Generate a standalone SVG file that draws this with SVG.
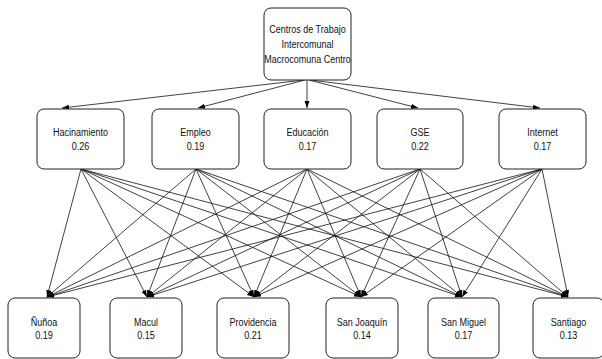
<svg xmlns="http://www.w3.org/2000/svg" width="602" height="359" viewBox="0 0 602 359">
<defs>
<marker id="ah" markerUnits="userSpaceOnUse" markerWidth="8" markerHeight="6" refX="7" refY="3" orient="auto">
<path d="M0,0.5 L7,3 L0,5.5 Z" fill="#000"/>
</marker>
<style>
.n rect{fill:#fff;stroke:#222;stroke-width:1}
.n text{font-family:"Liberation Sans",Arial,sans-serif;font-size:11px;fill:#111;text-anchor:middle}
.e line{stroke:#111;stroke-width:0.8;marker-end:url(#ah)}
</style>
</defs>
<rect width="602" height="359" fill="#fff"/>
<g class="e" id="edges">
<line x1="304" y1="80" x2="62" y2="108"/>
<line x1="305" y1="80" x2="198" y2="108"/>
<line x1="307" y1="80" x2="307" y2="108"/>
<line x1="309" y1="80" x2="418" y2="108"/>
<line x1="310" y1="80" x2="540" y2="108"/>
<line x1="81" y1="169" x2="47" y2="297"/><line x1="81" y1="169" x2="147" y2="297"/><line x1="81" y1="169" x2="254" y2="297"/><line x1="81" y1="169" x2="361" y2="297"/><line x1="81" y1="169" x2="462" y2="297"/><line x1="81" y1="169" x2="568" y2="297"/>
<line x1="196" y1="169" x2="47" y2="297"/><line x1="196" y1="169" x2="147" y2="297"/><line x1="196" y1="169" x2="254" y2="297"/><line x1="196" y1="169" x2="361" y2="297"/><line x1="196" y1="169" x2="462" y2="297"/><line x1="196" y1="169" x2="568" y2="297"/>
<line x1="307" y1="169" x2="47" y2="297"/><line x1="307" y1="169" x2="147" y2="297"/><line x1="307" y1="169" x2="254" y2="297"/><line x1="307" y1="169" x2="361" y2="297"/><line x1="307" y1="169" x2="462" y2="297"/><line x1="307" y1="169" x2="568" y2="297"/>
<line x1="420" y1="169" x2="47" y2="297"/><line x1="420" y1="169" x2="147" y2="297"/><line x1="420" y1="169" x2="254" y2="297"/><line x1="420" y1="169" x2="361" y2="297"/><line x1="420" y1="169" x2="462" y2="297"/><line x1="420" y1="169" x2="568" y2="297"/>
<line x1="542" y1="169" x2="47" y2="297"/><line x1="542" y1="169" x2="147" y2="297"/><line x1="542" y1="169" x2="254" y2="297"/><line x1="542" y1="169" x2="361" y2="297"/><line x1="542" y1="169" x2="462" y2="297"/><line x1="542" y1="169" x2="568" y2="297"/>
</g>
<g class="n" id="root"><rect x="264" y="8" width="87" height="72" rx="7"/><text transform="translate(307.5,33) scale(0.82,1)">Centros de Trabajo</text><text transform="translate(307.5,48) scale(0.82,1)">Intercomunal</text><text transform="translate(307.5,63) scale(0.82,1)">Macrocomuna Centro</text></g>
<g class="n" id="hacinamiento"><rect x="37" y="109" width="87" height="60" rx="7"/><text transform="translate(80.5,136) scale(0.82,1)">Hacinamiento</text><text transform="translate(80.5,150) scale(0.82,1)">0.26</text></g>
<g class="n" id="empleo"><rect x="152" y="109" width="87" height="60" rx="7"/><text transform="translate(195.5,136) scale(0.82,1)">Empleo</text><text transform="translate(195.5,150) scale(0.82,1)">0.19</text></g>
<g class="n" id="educacion"><rect x="264" y="109" width="87" height="60" rx="7"/><text transform="translate(307.5,136) scale(0.82,1)">Educación</text><text transform="translate(307.5,150) scale(0.82,1)">0.17</text></g>
<g class="n" id="gse"><rect x="377" y="109" width="86" height="60" rx="7"/><text transform="translate(420,136) scale(0.82,1)">GSE</text><text transform="translate(420,150) scale(0.82,1)">0.22</text></g>
<g class="n" id="internet"><rect x="499" y="109" width="87" height="60" rx="7"/><text transform="translate(542.5,136) scale(0.82,1)">Internet</text><text transform="translate(542.5,150) scale(0.82,1)">0.17</text></g>
<g class="n" id="nunoa"><rect x="8" y="298" width="72" height="60" rx="7"/><text transform="translate(44,326) scale(0.82,1)">Ñuñoa</text><text transform="translate(44,339) scale(0.82,1)">0.19</text></g>
<g class="n" id="macul"><rect x="110" y="298" width="72" height="60" rx="7"/><text transform="translate(146,326) scale(0.82,1)">Macul</text><text transform="translate(146,339) scale(0.82,1)">0.15</text></g>
<g class="n" id="providencia"><rect x="217" y="298" width="72" height="60" rx="7"/><text transform="translate(253,326) scale(0.82,1)">Providencia</text><text transform="translate(253,339) scale(0.82,1)">0.21</text></g>
<g class="n" id="sanjoaquin"><rect x="326" y="298" width="72" height="60" rx="7"/><text transform="translate(362,326) scale(0.82,1)">San Joaquín</text><text transform="translate(362,339) scale(0.82,1)">0.14</text></g>
<g class="n" id="sanmiguel"><rect x="428" y="298" width="71" height="60" rx="7"/><text transform="translate(463.5,326) scale(0.82,1)">San Miguel</text><text transform="translate(463.5,339) scale(0.82,1)">0.17</text></g>
<g class="n" id="santiago"><rect x="533" y="298" width="71" height="60" rx="7"/><text transform="translate(568.5,326) scale(0.82,1)">Santiago</text><text transform="translate(568.5,339) scale(0.82,1)">0.13</text></g>
</svg>
